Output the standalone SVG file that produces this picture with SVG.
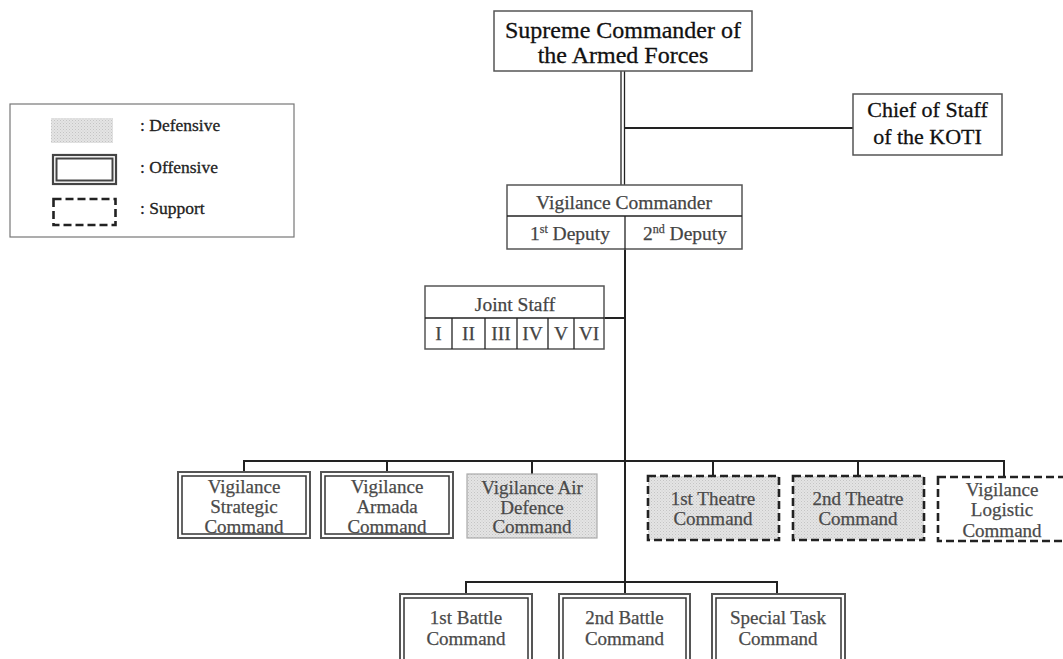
<svg xmlns="http://www.w3.org/2000/svg" width="1063" height="659" viewBox="0 0 1063 659">
  <defs>
    <!-- fine dot texture used for defensive units -->
    <pattern id="dots" width="3" height="3" patternUnits="userSpaceOnUse">
      <rect width="3" height="3" fill="#e4e4e4"/>
      <rect x="0" y="0" width="1" height="1" fill="#c4c4c4"/>
      <rect x="1.5" y="1.5" width="1" height="1" fill="#cfcfcf"/>
    </pattern>
    <style>
      text { font-family: "Liberation Serif", "Times New Roman", serif; text-anchor: middle; }
      .top { font-size: 24px; fill: #111; stroke: #111; stroke-width: 0.3; }
      .chief { font-size: 22px; fill: #111; stroke: #111; stroke-width: 0.3; }
      .mid { font-size: 19.5px; fill: #444; stroke: #444; stroke-width: 0.25; }
      .unit { font-size: 19px; fill: #4a4a4a; stroke: #4a4a4a; stroke-width: 0.25; }
      .legend { font-size: 17.5px; fill: #222; stroke: #222; stroke-width: 0.3; text-anchor: start; }
      .box { fill: #fff; stroke: #555; stroke-width: 1.5; }
      .outer { fill: #fff; stroke: #555; stroke-width: 2; }
      .inner { fill: none; stroke: #333; stroke-width: 1.5; }
      .def { fill: url(#dots); stroke: #aaa; stroke-width: 1.2; }
      .dash { stroke: #222; stroke-width: 2.6; stroke-dasharray: 8 4; }
      .line { stroke: #222; stroke-width: 2; fill: none; }
      .thin { stroke: #222; stroke-width: 1.3; fill: none; }
    </style>
  </defs>

  <rect width="1063" height="659" fill="#fff"/>

  <!-- legend -->
  <g id="legend">
    <rect x="10" y="104" width="284" height="133" fill="#fff" stroke="#777" stroke-width="1.2"/>
    <rect x="51" y="118" width="62" height="25" fill="url(#dots)"/>
    <rect x="53" y="155" width="63" height="29" fill="#fff" stroke="#444" stroke-width="2.2"/>
    <rect x="56.5" y="158.5" width="56" height="22" fill="none" stroke="#444" stroke-width="2"/>
    <rect x="53.5" y="199" width="62" height="26" fill="none" class="dash"/>
    <text class="legend" x="140" y="131">: Defensive</text>
    <text class="legend" x="140" y="173">: Offensive</text>
    <text class="legend" x="140" y="214">: Support</text>
  </g>

  <!-- connectors -->
  <g id="connectors">
    <!-- double line from the supreme commander -->
    <line class="thin" x1="621" y1="71" x2="621" y2="185"/>
    <line class="thin" x1="624.5" y1="71" x2="624.5" y2="185"/>
    <line class="line" x1="624.5" y1="128" x2="853" y2="128"/>
    <!-- main spine -->
    <line class="line" x1="625" y1="249" x2="625" y2="594"/>
    <line class="line" x1="604" y1="318" x2="625" y2="318"/>
    <!-- upper bus -->
    <polyline class="line" points="244,472 244,461 1004,461 1004,477"/>
    <line class="line" x1="387" y1="461" x2="387" y2="472"/>
    <line class="line" x1="532" y1="461" x2="532" y2="474"/>
    <line class="line" x1="713" y1="461" x2="713" y2="476"/>
    <line class="line" x1="858" y1="461" x2="858" y2="476"/>
    <!-- lower bus -->
    <polyline class="line" points="466,594 466,582 777,582 777,594"/>
  </g>

  <g id="supreme">
    <rect class="box" x="494" y="11" width="258" height="60"/>
    <text class="top" x="623" y="38">Supreme Commander of</text>
    <text class="top" x="623" y="63">the Armed Forces</text>
  </g>

  <g id="chief-of-staff">
    <rect class="box" x="853" y="94" width="149" height="61"/>
    <text class="chief" x="927.5" y="117">Chief of Staff</text>
    <text class="chief" x="927.5" y="144">of the KOTI</text>
  </g>

  <g id="vigilance-commander">
    <rect class="box" x="507" y="185" width="235" height="64"/>
    <line class="thin" x1="507" y1="216" x2="742" y2="216"/>
    <line class="thin" x1="625" y1="216" x2="625" y2="249"/>
    <text class="mid" x="624" y="209">Vigilance Commander</text>
    <text class="mid" x="570" y="240">1<tspan font-size="12" dy="-7">st</tspan><tspan dy="7"> Deputy</tspan></text>
    <text class="mid" x="685" y="240">2<tspan font-size="12" dy="-7">nd</tspan><tspan dy="7"> Deputy</tspan></text>
  </g>

  <g id="joint-staff">
    <rect class="box" x="425" y="286" width="179" height="63"/>
    <line class="thin" x1="425" y1="318" x2="604" y2="318"/>
    <line class="thin" x1="452" y1="318" x2="452" y2="349"/>
    <line class="thin" x1="485" y1="318" x2="485" y2="349"/>
    <line class="thin" x1="517" y1="318" x2="517" y2="349"/>
    <line class="thin" x1="548" y1="318" x2="548" y2="349"/>
    <line class="thin" x1="574" y1="318" x2="574" y2="349"/>
    <text class="mid" x="515" y="311">Joint Staff</text>
    <text class="mid" x="438.5" y="340">I</text>
    <text class="mid" x="468.5" y="340">II</text>
    <text class="mid" x="501" y="340">III</text>
    <text class="mid" x="532.5" y="340">IV</text>
    <text class="mid" x="561" y="340">V</text>
    <text class="mid" x="589" y="340">VI</text>
  </g>

  <g id="strategic-command">
    <rect class="outer" x="178" y="472" width="132" height="66"/>
    <rect class="inner" x="182" y="476" width="124" height="58"/>
    <text class="unit" x="244" y="493">Vigilance</text>
    <text class="unit" x="244" y="513">Strategic</text>
    <text class="unit" x="244" y="533">Command</text>
  </g>

  <g id="armada-command">
    <rect class="outer" x="321" y="472" width="132" height="66"/>
    <rect class="inner" x="325" y="476" width="124" height="58"/>
    <text class="unit" x="387" y="493">Vigilance</text>
    <text class="unit" x="387" y="513">Armada</text>
    <text class="unit" x="387" y="533">Command</text>
  </g>

  <g id="air-defence-command">
    <rect class="def" x="467" y="474" width="130" height="64"/>
    <text class="unit" x="532" y="494">Vigilance Air</text>
    <text class="unit" x="532" y="514">Defence</text>
    <text class="unit" x="532" y="533">Command</text>
  </g>

  <g id="theatre-1">
    <rect class="dash" fill="url(#dots)" x="648" y="476" width="131" height="64"/>
    <text class="unit" x="713" y="505">1st Theatre</text>
    <text class="unit" x="713" y="525">Command</text>
  </g>

  <g id="theatre-2">
    <rect class="dash" fill="url(#dots)" x="793" y="476" width="131" height="64"/>
    <text class="unit" x="858" y="505">2nd Theatre</text>
    <text class="unit" x="858" y="525">Command</text>
  </g>

  <g id="logistic-command">
    <rect class="dash" fill="#fff" x="938" y="477" width="132" height="64"/>
    <text class="unit" x="1002" y="496">Vigilance</text>
    <text class="unit" x="1002" y="516">Logistic</text>
    <text class="unit" x="1002" y="537">Command</text>
  </g>

  <g id="battle-1">
    <rect class="outer" x="400" y="594" width="132" height="70"/>
    <rect class="inner" x="404" y="598" width="124" height="62"/>
    <text class="unit" x="466" y="624">1st Battle</text>
    <text class="unit" x="466" y="645">Command</text>
  </g>

  <g id="battle-2">
    <rect class="outer" x="559" y="594" width="131" height="70"/>
    <rect class="inner" x="563" y="598" width="123" height="62"/>
    <text class="unit" x="624.5" y="624">2nd Battle</text>
    <text class="unit" x="624.5" y="645">Command</text>
  </g>

  <g id="special-task">
    <rect class="outer" x="712" y="594" width="133" height="70"/>
    <rect class="inner" x="716" y="598" width="125" height="62"/>
    <text class="unit" x="778" y="624">Special Task</text>
    <text class="unit" x="778" y="645">Command</text>
  </g>
</svg>
